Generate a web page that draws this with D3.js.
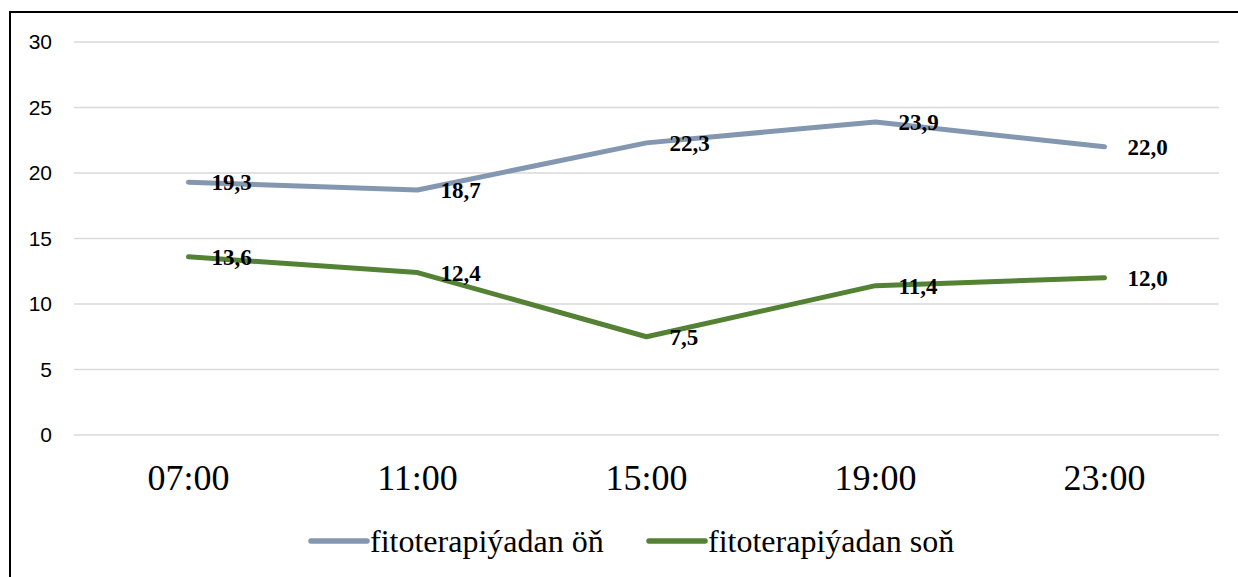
<!DOCTYPE html>
<html>
<head>
<meta charset="utf-8">
<script src="https://cdn.jsdelivr.net/npm/d3@7"></script>
<style>
  body { margin: 0; background: #fff; }
  svg { display: block; }
</style>
</head>
<body>
<div id="chart"></div>
<script>
// Data
const times = ["07:00", "11:00", "15:00", "19:00", "23:00"];
const beforeValues = [19.3, 18.7, 22.3, 23.9, 22.0];
const afterValues = [13.6, 12.4, 7.5, 11.4, 12.0];
const seriesNames = ["fitoterapiýadan öň", "fitoterapiýadan soň"];
const yTicks = [0, 5, 10, 15, 20, 25, 30];

const W = 1238, H = 577;
const margin = {top: 42, right: 19, bottom: 142, left: 74};

const svg = d3.select("#chart").append("svg")
  .attr("width", W)
  .attr("height", H);

// frame (only top and left visible in the picture)
svg.append("path")
  .attr("d", `M10,${H} L10,12 L${W},12`)
  .attr("fill", "none")
  .attr("stroke", "#000")
  .attr("stroke-width", 2);

let x = d3.scaleBand()
  .domain(times)
  .range([margin.left, W - margin.right]);
let y = d3.scaleLinear()
  .domain([0, 30])
  .range([H - margin.bottom, margin.top]);

// Grid
svg.append("g")
  .selectAll("line")
  .data(yTicks)
  .join("line")
  .attr("x1", margin.left)
  .attr("x2", W - margin.right)
  .attr("y1", d => y(d))
  .attr("y2", d => y(d))
  .attr("stroke", "#d9d9d9")
  .attr("stroke-width", 1.5);

// Y axis labels
let yAxis = d3.axisLeft(y).tickValues(yTicks).tickSize(0).tickPadding(0);
let yg = svg.append("g")
  .attr("transform", "translate(52,0)")
  .call(yAxis);
yg.select(".domain").remove();
yg.selectAll("text")
  .attr("font-family", "'Liberation Sans', Arial, sans-serif")
  .attr("font-size", 21)
  .attr("fill", "#000");

// X axis labels
let xAxis = d3.axisBottom(x).tickSize(0).tickPadding(0);
let xg = svg.append("g")
  .attr("transform", "translate(0,464)")
  .call(xAxis);
xg.select(".domain").remove();
xg.selectAll("text")
  .attr("font-family", "'Liberation Serif', 'Times New Roman', serif")
  .attr("font-size", 36)
  .attr("fill", "#000");

const series = [
  {name: seriesNames[0], values: beforeValues, color: "#8497b0"},
  {name: seriesNames[1], values: afterValues, color: "#548235"}
];

let line = d3.line()
  .x((d, i) => x(times[i]) + x.bandwidth() / 2)
  .y(d => y(d));

series.forEach(s => {
  svg.append("path")
    .attr("d", line(s.values))
    .attr("fill", "none")
    .attr("stroke", s.color)
    .attr("stroke-width", 5)
    .attr("stroke-linecap", "round")
    .attr("stroke-linejoin", "round");

  svg.append("g")
    .selectAll("text")
    .data(s.values)
    .join("text")
    .attr("x", (d, i) => x(times[i]) + x.bandwidth() / 2 + 23)
    .attr("y", d => y(d) + 3)
    .attr("dominant-baseline", "middle")
    .attr("font-family", "'Liberation Serif', 'Times New Roman', serif")
    .attr("font-weight", "bold")
    .attr("font-size", 23)
    .attr("fill", "#000")
    .text(d => d.toFixed(1).replace(".", ","));
});

// Legend
let legendX = [311, 649];
let legend = svg.append("g");
series.forEach((s, i) => {
  legend.append("line")
    .attr("x1", legendX[i])
    .attr("x2", legendX[i] + 56)
    .attr("y1", 541)
    .attr("y2", 541)
    .attr("stroke", s.color)
    .attr("stroke-width", 5.5)
    .attr("stroke-linecap", "round");
  legend.append("text")
    .attr("x", legendX[i] + 59)
    .attr("y", 552)
    .attr("font-family", "'Liberation Serif', 'Times New Roman', serif")
    .attr("font-size", 32)
    .attr("fill", "#000")
    .text(s.name);
});
</script>
</body>
</html>
